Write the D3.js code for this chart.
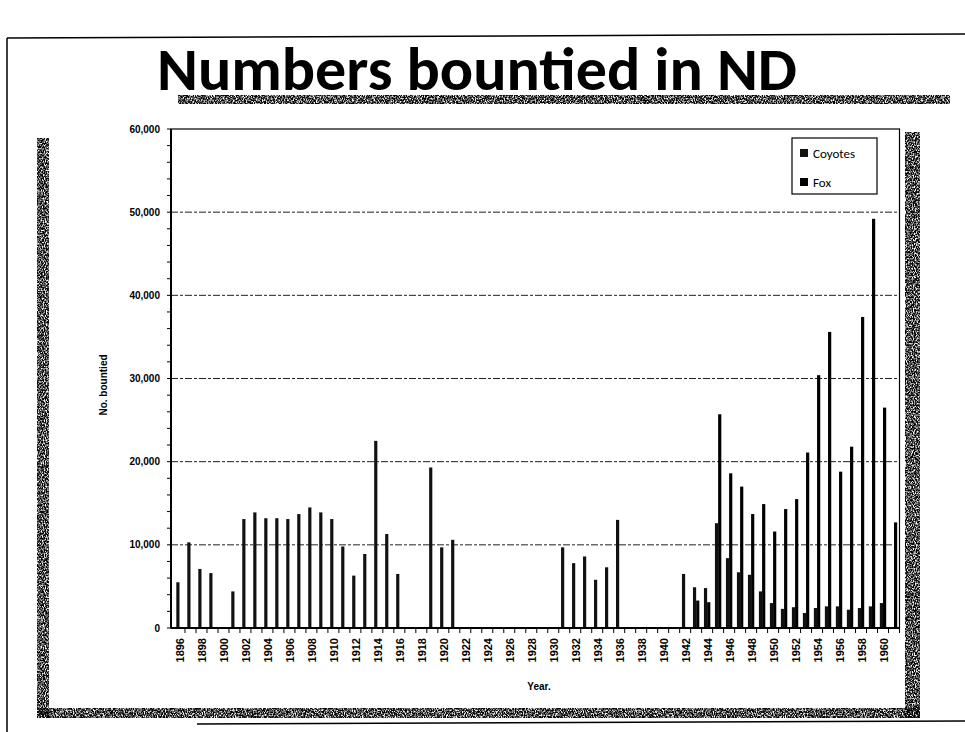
<!DOCTYPE html>
<html>
<head>
<meta charset="utf-8">
<script src="https://cdn.jsdelivr.net/npm/d3@7"></script>
<style>
  body { margin: 0; background: #fff; }
  text { fill: #000; }
</style>
</head>
<body>
<svg id="chart" width="965" height="732"></svg>
<script>
const years = [1896, 1897, 1898, 1899, 1900, 1901, 1902, 1903, 1904, 1905,
  1906, 1907, 1908, 1909, 1910, 1911, 1912, 1913, 1914, 1915,
  1916, 1917, 1918, 1919, 1920, 1921, 1922, 1923, 1924, 1925,
  1926, 1927, 1928, 1929, 1930, 1931, 1932, 1933, 1934, 1935,
  1936, 1937, 1938, 1939, 1940, 1941, 1942, 1943, 1944, 1945,
  1946, 1947, 1948, 1949, 1950, 1951, 1952, 1953, 1954, 1955,
  1956, 1957, 1958, 1959, 1960, 1961];

const coyotes = [5500, 10300, 7100, 6600, 0, 4400, 13100, 13900, 13200, 13200,
  13100, 13700, 14500, 13900, 13100, 9800, 6300, 8900, 22500, 11300,
  6500, 0, 0, 19300, 9700, 10600, 0, 0, 0, 0,
  0, 0, 0, 0, 0, 9700, 7800, 8600, 5800, 7300,
  13000, 0, 0, 0, 0, 0, 6500, 4900, 4800, 12600,
  8400, 6700, 6400, 4400, 3000, 2300, 2500, 1800, 2400, 2600,
  2600, 2200, 2400, 2600, 3000, 0];

const fox = [0, 0, 0, 0, 0, 0, 0, 0, 0, 0,
  0, 0, 0, 0, 0, 0, 0, 0, 0, 0,
  0, 0, 0, 0, 0, 0, 0, 0, 0, 0,
  0, 0, 0, 0, 0, 0, 0, 0, 0, 0,
  0, 0, 0, 0, 0, 0, 0, 3300, 3100, 25700,
  18600, 17000, 13700, 14900, 11600, 14300, 15500, 21100, 30400, 35600,
  18800, 21800, 37400, 49200, 26500, 12700];

const seriesNames = ["Coyotes", "Fox"];
const seriesColors = ["#111", "#000"];
const yTicks = [0, 10000, 20000, 30000, 40000, 50000, 60000];
const yMinorTicks = d3.range(0, 60001, 2000);
const yearLabels = years.filter((y, i) => i % 2 === 0);

const svg = d3.select("#chart");

// scanned paper texture for the slide frame
const defs = svg.append("defs");
const grain = defs.append("filter").attr("id", "grain")
  .attr("x", 0).attr("y", 0).attr("width", "100%").attr("height", "100%");
grain.append("feTurbulence").attr("type", "fractalNoise")
  .attr("baseFrequency", "0.9 0.6").attr("numOctaves", 2).attr("seed", 7).attr("result", "n");
grain.append("feColorMatrix").attr("in", "n").attr("type", "matrix")
  .attr("values", "0 0 0 0 0  0 0 0 0 0  0 0 0 0 0  -3.2 0 0 0 2.3").attr("result", "a");
grain.append("feComposite").attr("in", "a").attr("in2", "SourceAlpha").attr("operator", "in");

const x = d3.scaleBand()
  .domain(years)
  .range([174, 899.5])
  .paddingInner(0.42)
  .paddingOuter(0.21);

const xSub = d3.scaleBand()
  .domain(seriesNames)
  .range([0, x.bandwidth()]);

const y = d3.scaleLinear()
  .domain([0, 60000])
  .range([628, 129]);

const plotLeft = 171;
const plotRight = x.range()[1];

///////////////////////
/// SLIDE FRAME
///////////////////////

const frame = svg.append("g").attr("class", "frame");
frame.append("line").attr("x1", 7).attr("y1", 38).attr("x2", 965).attr("y2", 34)
  .attr("stroke", "#000").attr("stroke-width", 1.5);
frame.append("line").attr("x1", 7).attr("y1", 38).attr("x2", 7).attr("y2", 732)
  .attr("stroke", "#000").attr("stroke-width", 1.5);
frame.append("line").attr("x1", 197).attr("y1", 724).attr("x2", 965).attr("y2", 721)
  .attr("stroke", "#000").attr("stroke-width", 1.5);

const strips = [
  {x: 37, y: 138, w: 12, h: 580},
  {x: 905, y: 132, w: 15, h: 586},
  {x: 37, y: 708, w: 883, h: 10},
  {x: 178, y: 95, w: 772, h: 9}
];
frame.selectAll("rect.strip")
  .data(strips)
  .enter()
  .append("rect")
  .attr("class", "strip")
  .attr("x", d => d.x).attr("y", d => d.y)
  .attr("width", d => d.w).attr("height", d => d.h)
  .attr("fill", "#000")
  .attr("filter", "url(#grain)");

svg.append("text")
  .attr("x", 477)
  .attr("y", 90)
  .attr("text-anchor", "middle")
  .attr("textLength", 640)
  .attr("lengthAdjust", "spacingAndGlyphs")
  .style("font-family", "Carlito, Lato, 'Open Sans', sans-serif")
  .style("font-weight", "bold")
  .style("font-size", "60px")
  .text("Numbers bountied in ND");

///////////////////////
/// PLOT AREA
///////////////////////

svg.append("g")
  .attr("class", "grid")
  .selectAll("line")
  .data(yTicks.filter(t => t > 0 && t < 60000))
  .enter()
  .append("line")
  .attr("x1", plotLeft).attr("x2", plotRight)
  .attr("y1", d => y(d)).attr("y2", d => y(d))
  .attr("stroke", "#222")
  .attr("stroke-width", 1)
  .attr("stroke-dasharray", "7,2,3,2");

svg.append("rect")
  .attr("x", plotLeft).attr("y", y(60000))
  .attr("width", plotRight - plotLeft).attr("height", y(0) - y(60000))
  .attr("fill", "none").attr("stroke", "#000").attr("stroke-width", 1.2);

const rows = years.map((yr, i) => ({year: yr, values: [coyotes[i], fox[i]]}));

svg.append("g")
  .attr("class", "bars")
  .selectAll("g")
  .data(rows)
  .enter()
  .append("g")
  .attr("transform", d => `translate(${x(d.year)},0)`)
  .selectAll("rect")
  .data(d => d.values.map((v, k) => ({name: seriesNames[k], value: v, k: k})))
  .enter()
  .append("rect")
  .attr("x", d => xSub(d.name))
  .attr("y", d => y(d.value))
  .attr("width", xSub.bandwidth())
  .attr("height", d => y(0) - y(d.value))
  .attr("fill", d => seriesColors[d.k]);

// y axis with minor ticks every 2,000
const yAxis = svg.append("g").attr("class", "y-axis");
yAxis.append("line")
  .attr("x1", plotLeft).attr("x2", plotLeft)
  .attr("y1", y(60000)).attr("y2", y(0))
  .attr("stroke", "#000").attr("stroke-width", 2);
yAxis.selectAll("line.minor")
  .data(yMinorTicks)
  .enter()
  .append("line")
  .attr("class", "minor")
  .attr("x1", plotLeft - 4).attr("x2", plotLeft)
  .attr("y1", d => y(d)).attr("y2", d => y(d))
  .attr("stroke", "#000");
yAxis.selectAll("text")
  .data(yTicks)
  .enter()
  .append("text")
  .attr("x", 160)
  .attr("y", d => y(d))
  .attr("dy", "0.35em")
  .attr("text-anchor", "end")
  .style("font-family", "'Liberation Sans', Arial, sans-serif")
  .style("font-weight", "bold")
  .style("font-size", "10px")
  .text(d => d3.format(",")(d));

svg.append("text")
  .attr("transform", "translate(107,385) rotate(-90)")
  .attr("text-anchor", "middle")
  .style("font-family", "'Liberation Sans', Arial, sans-serif")
  .style("font-weight", "bold")
  .style("font-size", "10px")
  .text("No. bountied");

// x axis: ticks between categories
const xAxis = svg.append("g").attr("class", "x-axis");
xAxis.append("line")
  .attr("x1", plotLeft).attr("x2", plotRight)
  .attr("y1", y(0)).attr("y2", y(0))
  .attr("stroke", "#000").attr("stroke-width", 2);
xAxis.selectAll("line.tick")
  .data(years)
  .enter()
  .append("line")
  .attr("class", "tick")
  .attr("x1", d => x(d) + x.bandwidth() + x.step() * 0.21)
  .attr("x2", d => x(d) + x.bandwidth() + x.step() * 0.21)
  .attr("y1", y(0)).attr("y2", y(0) + 5)
  .attr("stroke", "#000");
xAxis.selectAll("text")
  .data(yearLabels)
  .enter()
  .append("text")
  .attr("transform", d => `translate(${x(d) + x.bandwidth() / 2 + 1},638) rotate(-90)`)
  .attr("dy", "0.35em")
  .attr("text-anchor", "end")
  .style("font-family", "'Liberation Sans', Arial, sans-serif")
  .style("font-weight", "bold")
  .style("font-size", "11px")
  .text(d => d);

svg.append("text")
  .attr("x", 539)
  .attr("y", 690)
  .attr("text-anchor", "middle")
  .style("font-family", "'Liberation Sans', Arial, sans-serif")
  .style("font-weight", "bold")
  .style("font-size", "10px")
  .text("Year.");

///////////////////////
/// LEGEND
///////////////////////

const legend = svg.append("g").attr("class", "legend");
legend.append("rect")
  .attr("x", 792).attr("y", 138).attr("width", 85).attr("height", 56)
  .attr("fill", "#fff").attr("stroke", "#000").attr("stroke-width", 1.2);
const item = legend.selectAll("g")
  .data(seriesNames)
  .enter()
  .append("g")
  .attr("transform", (d, i) => `translate(800,${153 + i * 29})`);
item.append("rect")
  .attr("x", 0).attr("y", -4).attr("width", 8).attr("height", 8)
  .attr("fill", (d, i) => seriesColors[i]);
item.append("text")
  .attr("x", 13).attr("dy", "0.35em")
  .style("font-family", "Carlito, Lato, 'Open Sans', sans-serif")
  .style("font-size", "13px")
  .text(d => d);
</script>
</body>
</html>
